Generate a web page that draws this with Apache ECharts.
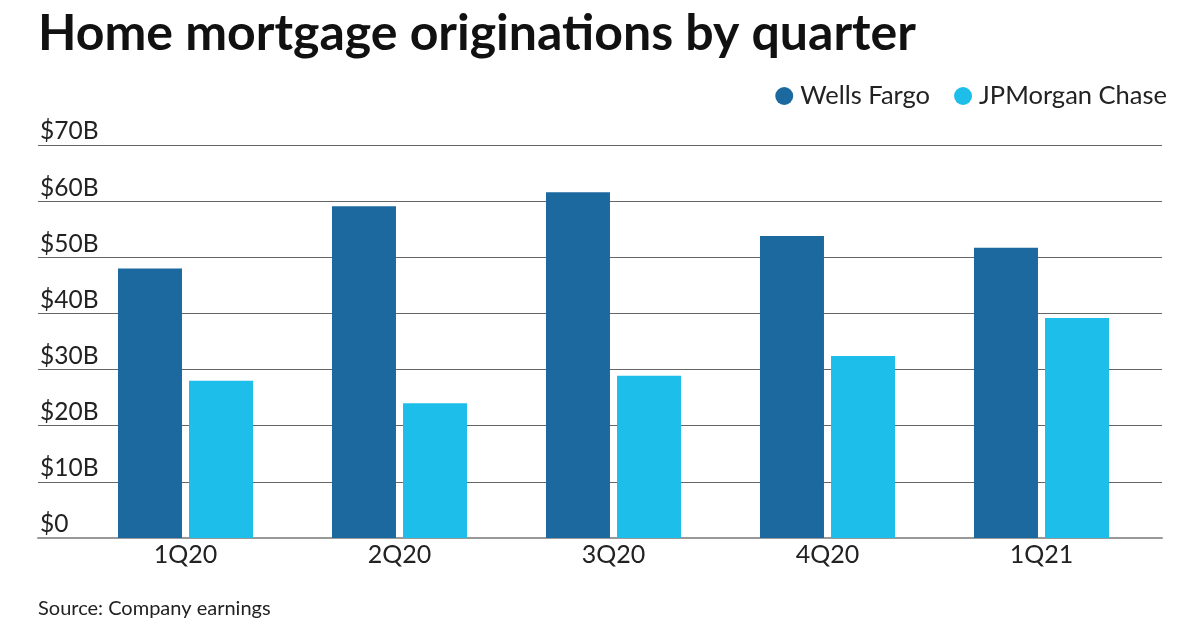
<!DOCTYPE html>
<html>
<head>
<meta charset="utf-8">
<script src="https://cdn.jsdelivr.net/npm/echarts@6/dist/echarts.min.js"></script>
<style>
html,body{margin:0;padding:0;background:#fff;}
#chart{width:1200px;height:630px;}
</style>
</head>
<body>
<div id="chart"></div>
<script>
const categories = ['1Q20', '2Q20', '3Q20', '4Q20', '1Q21'];
const wellsFargo = [48.0, 59.1, 61.6, 53.8, 51.7];
const jpmorganChase = [28.0, 24.0, 28.9, 32.4, 39.2];
const yTickLabels = ['$0', '$10B', '$20B', '$30B', '$40B', '$50B', '$60B', '$70B'];
const seriesNames = ['Wells Fargo', 'JPMorgan Chase'];

const FONT = 'Lato, "Noto Sans", sans-serif';
const chart = echarts.init(document.getElementById('chart'), null, {renderer: 'canvas'});
chart.setOption({
  animation: false,
  backgroundColor: '#fff',
  title: [{
    text: 'Home mortgage originations by quarter',
    left: 33, top: 4,
    textStyle: {fontFamily: FONT, fontWeight: 'bold', fontSize: 50, color: '#111'}
  }, {
    text: 'Source: Company earnings',
    left: 33, top: 594,
    textStyle: {fontFamily: FONT, fontWeight: 'normal', fontSize: 20, color: '#222'}
  }],
  legend: {
    data: seriesNames,
    right: 28, top: 78,
    icon: 'circle', itemWidth: 18, itemHeight: 18, itemGap: 24,
    textStyle: {fontFamily: FONT, fontSize: 25.5, color: '#222', padding: [0, 0, 0, 2]}
  },
  grid: [
    {left: 38, right: 38, top: 145, bottom: 92},
    {left: 78.5, right: 51.5, top: 145, bottom: 92}
  ],
  xAxis: [{
    gridIndex: 0, type: 'value', min: 0, max: 1,
    axisLine: {show: true, lineStyle: {color: '#999', width: 2}},
    axisTick: {show: false}, axisLabel: {show: false}, splitLine: {show: false}
  }, {
    gridIndex: 1, type: 'category', data: categories,
    axisLine: {show: false}, axisTick: {show: false},
    axisLabel: {fontFamily: FONT, fontSize: 25, color: '#222', margin: 4}
  }],
  yAxis: [{
    gridIndex: 0, type: 'value', min: 0, max: 70, interval: 10,
    axisLine: {show: false}, axisTick: {show: false},
    axisLabel: {
      inside: true, align: 'left', verticalAlign: 'bottom', margin: 2,
      padding: [0, 0, 1, 0],
      fontFamily: FONT, fontSize: 24.5, color: '#222',
      formatter: v => yTickLabels[Math.round(v / 10)]
    },
    splitLine: {lineStyle: {color: '#666', width: 1}}
  }, {
    gridIndex: 1, type: 'value', min: 0, max: 70, interval: 10,
    show: false
  }],
  series: [{
    name: seriesNames[0], type: 'bar', xAxisIndex: 1, yAxisIndex: 1,
    data: wellsFargo, barWidth: 64, barGap: '11%',
    itemStyle: {color: '#1b699f'}, z: 3
  }, {
    name: seriesNames[1], type: 'bar', xAxisIndex: 1, yAxisIndex: 1,
    data: jpmorganChase, barWidth: 64, barGap: '11%',
    itemStyle: {color: '#1dbeea'}, z: 3
  }]
});
</script>
</body>
</html>
